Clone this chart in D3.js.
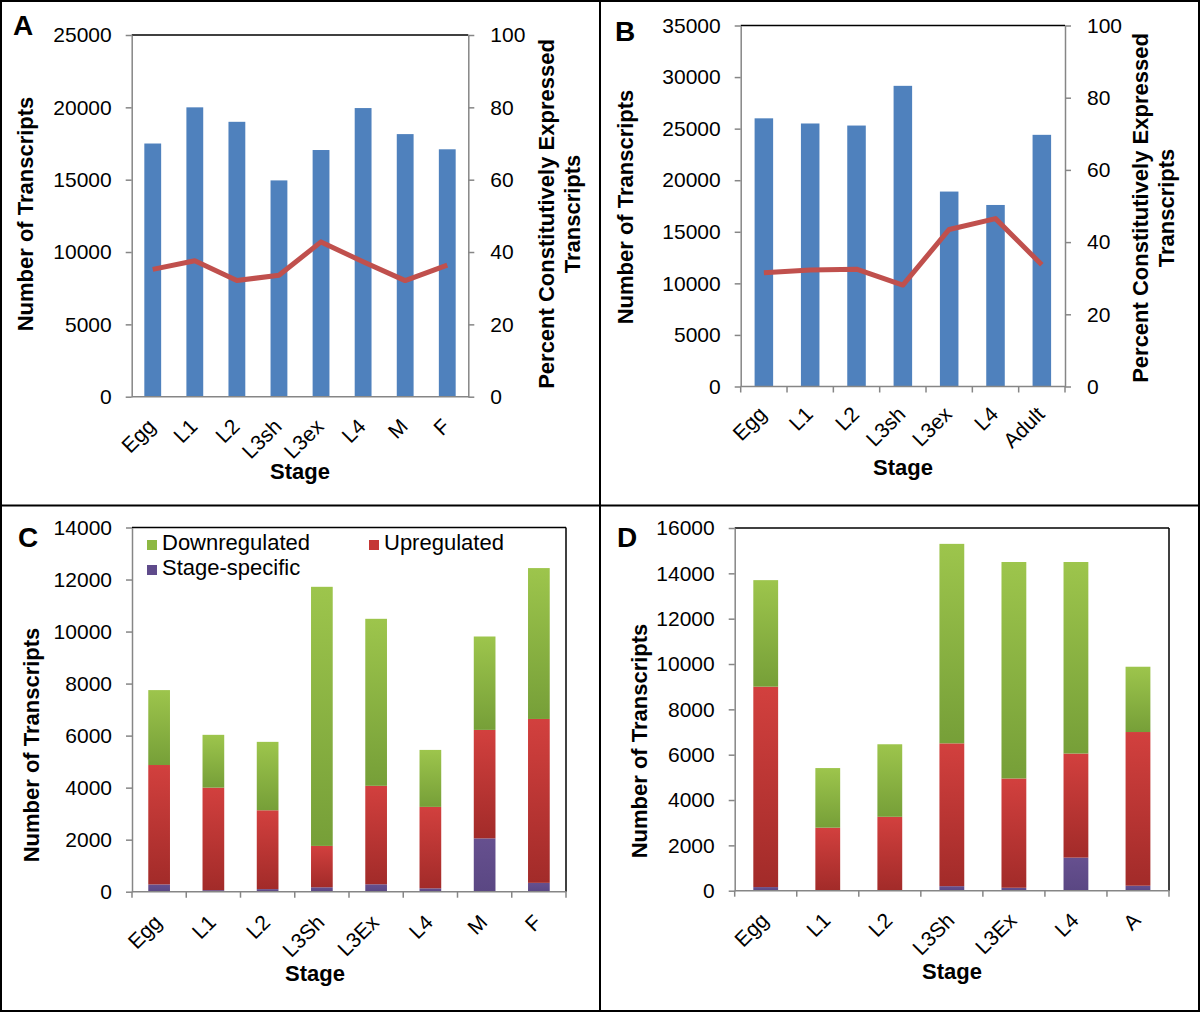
<!DOCTYPE html>
<html><head><meta charset="utf-8">
<script src="https://cdn.jsdelivr.net/npm/d3@7"></script>
<style>
html,body{margin:0;padding:0;background:#fff;}
svg{display:block;font-family:"Liberation Sans",Arial,Helvetica,sans-serif;}
</style></head>
<body>
<svg id="fig" width="1200" height="1012"></svg>
<script>
// ---------- DATA ----------
const stagesA = ["Egg","L1","L2","L3sh","L3ex","L4","M","F"];
const transcriptsA = [17500,20000,19000,14950,17050,19950,18150,17100];
const percentA = [35.2,37.6,32.1,33.6,42.8,37.3,32.1,36.4];
const leftTicksA = [0,5000,10000,15000,20000,25000];
const rightTicks = [0,20,40,60,80,100];

const stagesB = ["Egg","L1","L2","L3sh","L3ex","L4","Adult"];
const transcriptsB = [26000,25500,25300,29150,18900,17600,24400];
const percentB = [31.5,32.3,32.5,28.1,43.5,46.5,33.7];
const leftTicksB = [0,5000,10000,15000,20000,25000,30000,35000];

const stagesC = ["Egg","L1","L2","L3Sh","L3Ex","L4","M","F"];
const stageSpecificC = [280,60,100,170,285,130,2050,340];
const upregulatedC   = [4590,3940,3030,1590,3785,3130,4170,6300];
const downregulatedC = [2880,2030,2630,9960,6420,2190,3590,5800];
const ticksC = [0,2000,4000,6000,8000,10000,12000,14000];

const stagesD = ["Egg","L1","L2","L3Sh","L3Ex","L4","A"];
const stageSpecificD = [160,30,30,200,130,1460,220];
const upregulatedD   = [8840,2750,3230,6300,4820,4590,6780];
const downregulatedD = [4700,2630,3200,8800,9550,8450,2880];
const ticksD = [0,2000,4000,6000,8000,10000,12000,14000,16000];

const seriesNames = ["Downregulated","Upregulated","Stage-specific"];

// ---------- STYLE ----------
const AXIS = "#868686";
const BLUE = "#4F81BD";
const RED_LINE = "#C0504D";
const TICK_FS = 21, TITLE_FS = 22;

const svg = d3.select("#fig");
const defs = svg.append("defs");
function grad(id, top, bottom){
  const g = defs.append("linearGradient").attr("id",id)
    .attr("x1",0).attr("y1",0).attr("x2",0).attr("y2",1);
  g.append("stop").attr("offset","0%").attr("stop-color",top);
  g.append("stop").attr("offset","100%").attr("stop-color",bottom);
}
grad("gGreen","#9DC54C","#769F38");
grad("gRed","#D2403E","#A22B29");
grad("gPurple","#66508F","#5A4783");
const fills = {Downregulated:"url(#gGreen)",Upregulated:"url(#gRed)","Stage-specific":"url(#gPurple)"};
const legendFills = {Downregulated:"#8DB843",Upregulated:"#C53735","Stage-specific":"#5F4B8B"};

// ---------- FRAME ----------
svg.append("rect").attr("x",1).attr("y",1).attr("width",1198).attr("height",1010)
  .attr("fill","none").attr("stroke","#000").attr("stroke-width",2);
svg.append("line").attr("x1",600).attr("x2",600).attr("y1",0).attr("y2",1012)
  .attr("stroke","#000").attr("stroke-width",2);
svg.append("line").attr("x1",0).attr("x2",1200).attr("y1",505.5).attr("y2",505.5)
  .attr("stroke","#000").attr("stroke-width",2);

function styleAxis(g){
  g.select(".domain").attr("stroke",AXIS).attr("stroke-width",1.5);
  g.selectAll(".tick line").attr("stroke",AXIS).attr("stroke-width",1.5);
  g.selectAll(".tick text").attr("fill","#000").attr("font-size",TICK_FS)
    .attr("font-family",'"Liberation Sans",Arial,sans-serif');
}

function panel(o){
  const {L,R,T,B,cats,yMax,leftTicks} = o;
  const g = svg.append("g");
  const x = d3.scaleBand().domain(cats).range([L,R]).paddingInner(0.6).paddingOuter(0.3);
  const y = d3.scaleLinear().domain([0,yMax]).range([B,T]);
  const step = x.step();

  // plot area border (top / right black)
  g.append("line").attr("x1",L).attr("x2",R).attr("y1",T).attr("y2",T)
    .attr("stroke","#000").attr("stroke-width",1.5);
  if(!o.right){
    g.append("line").attr("x1",R).attr("x2",R).attr("y1",T).attr("y2",B)
      .attr("stroke","#000").attr("stroke-width",1.5);
  }

  const marks = g.append("g");
  o.draw(marks,x,y);

  // left axis
  const ga = g.append("g").attr("transform",`translate(${L},0)`)
    .call(d3.axisLeft(y).tickValues(leftTicks).tickSize(6).tickSizeOuter(0).tickPadding(14).tickFormat(d3.format("d")));
  styleAxis(ga);

  // right axis
  if(o.right){
    const y2 = d3.scaleLinear().domain([0,100]).range([B,T]);
    const gr = g.append("g").attr("transform",`translate(${R},0)`)
      .call(d3.axisRight(y2).tickValues(rightTicks).tickSize(6).tickSizeOuter(0).tickPadding(16));
    styleAxis(gr);
    const line = d3.line().x((d,i)=>x(cats[i])+x.bandwidth()/2).y(d=>y2(d));
    g.append("path").datum(o.right).attr("d",line).attr("fill","none")
      .attr("stroke",RED_LINE).attr("stroke-width",5).attr("stroke-linejoin","round");
  }

  // bottom axis
  g.append("line").attr("x1",L).attr("x2",R).attr("y1",B).attr("y2",B)
    .attr("stroke",AXIS).attr("stroke-width",1.5);
  if(o.xTicks){
    const bounds = cats.map(c=>x(c)-step*0.3).concat([R]);
    g.selectAll(".xt").data(bounds).enter().append("line")
      .attr("x1",d=>d).attr("x2",d=>d).attr("y1",B).attr("y2",B+6)
      .attr("stroke",AXIS).attr("stroke-width",1.5);
  }
  g.selectAll(".xl").data(cats).enter().append("text")
    .attr("transform",d=>`translate(${x(d)+x.bandwidth()/2+4},${B+o.labOff}) rotate(-45)`)
    .attr("text-anchor","end").attr("font-size",TICK_FS).text(d=>d);

  // titles
  g.append("text").attr("x",o.stageX).attr("y",o.stageY).attr("text-anchor","middle")
    .attr("font-weight","bold").attr("font-size",TITLE_FS).text("Stage");
  g.append("text").attr("transform",`translate(${o.ytX},${o.ytY}) rotate(-90)`)
    .attr("text-anchor","middle").attr("dy","0.35em").attr("font-weight","bold")
    .attr("font-size",TITLE_FS).text("Number of Transcripts");
  if(o.right){
    const t = g.append("text").attr("transform",`translate(${o.rtX},${o.rtY}) rotate(-90)`)
      .attr("text-anchor","middle").attr("font-weight","bold").attr("font-size",TITLE_FS);
    t.append("tspan").attr("x",0).attr("dy","0.35em").text("Percent Constitutively Expressed");
    t.append("tspan").attr("x",0).attr("dy","1.18em").text("Transcripts");
  }
  g.append("text").attr("x",o.letX).attr("y",o.letY).attr("font-weight","bold")
    .attr("font-size",28).text(o.letter);
  return {x,y};
}

// Panel A
panel({L:131.7,R:468.3,T:35,B:396.7,cats:stagesA,yMax:25000,leftTicks:leftTicksA,
  right:percentA,xTicks:false,labOff:31,stageX:300,stageY:479,ytX:25,ytY:214,rtX:546,rtY:214,
  letter:"A",letX:13,letY:35,
  draw:(m,x,y)=>{
    m.selectAll("rect").data(transcriptsA).enter().append("rect")
      .attr("x",(d,i)=>x(stagesA[i])).attr("width",x.bandwidth())
      .attr("y",d=>y(d)).attr("height",d=>y(0)-y(d)).attr("fill",BLUE);
  }});

// Panel B
panel({L:740.7,R:1065,T:25.5,B:386.5,cats:stagesB,yMax:35000,leftTicks:leftTicksB,
  right:percentB,xTicks:true,labOff:29,stageX:903,stageY:475,ytX:625,ytY:207,rtX:1140,rtY:208,
  letter:"B",letX:615,letY:41,
  draw:(m,x,y)=>{
    m.selectAll("rect").data(transcriptsB).enter().append("rect")
      .attr("x",(d,i)=>x(stagesB[i])).attr("width",x.bandwidth())
      .attr("y",d=>y(d)).attr("height",d=>y(0)-y(d)).attr("fill",BLUE);
  }});

function stackedDraw(cats,ss,up,down){
  return (m,x,y)=>{
    const rows = cats.map((c,i)=>({stage:c,"Stage-specific":ss[i],Upregulated:up[i],Downregulated:down[i]}));
    const stack = d3.stack().keys(["Stage-specific","Upregulated","Downregulated"])(rows);
    stack.forEach(s=>{
      m.append("g").selectAll("rect").data(s).enter().append("rect")
        .attr("x",d=>x(d.data.stage)).attr("width",x.bandwidth())
        .attr("y",d=>y(d[1])).attr("height",d=>y(d[0])-y(d[1]))
        .attr("fill",fills[s.key]);
    });
  };
}

// Panel C
panel({L:132,R:566,T:527.5,B:891.7,cats:stagesC,yMax:14000,leftTicks:ticksC,
  right:null,xTicks:true,labOff:32,stageX:315,stageY:981,ytX:31,ytY:745,
  letter:"C",letX:18,letY:547,
  draw:stackedDraw(stagesC,stageSpecificC,upregulatedC,downregulatedC)});

// Legend C
const legItems = [
  {name:seriesNames[0],x:147,y:550},
  {name:seriesNames[1],x:369,y:550},
  {name:seriesNames[2],x:147,y:575}
];
const lg = svg.append("g");
legItems.forEach(it=>{
  lg.append("rect").attr("x",it.x).attr("y",it.y-10).attr("width",10).attr("height",10)
    .attr("fill",legendFills[it.name]);
  lg.append("text").attr("x",it.x+15).attr("y",it.y).attr("font-size",22).text(it.name);
});

// Panel D
panel({L:734.7,R:1169,T:528,B:890.7,cats:stagesD,yMax:16000,leftTicks:ticksD,
  right:null,xTicks:true,labOff:31,stageX:952,stageY:979,ytX:639,ytY:741,
  letter:"D",letX:617,letY:547,
  draw:stackedDraw(stagesD,stageSpecificD,upregulatedD,downregulatedD)});
</script>
</body></html>
